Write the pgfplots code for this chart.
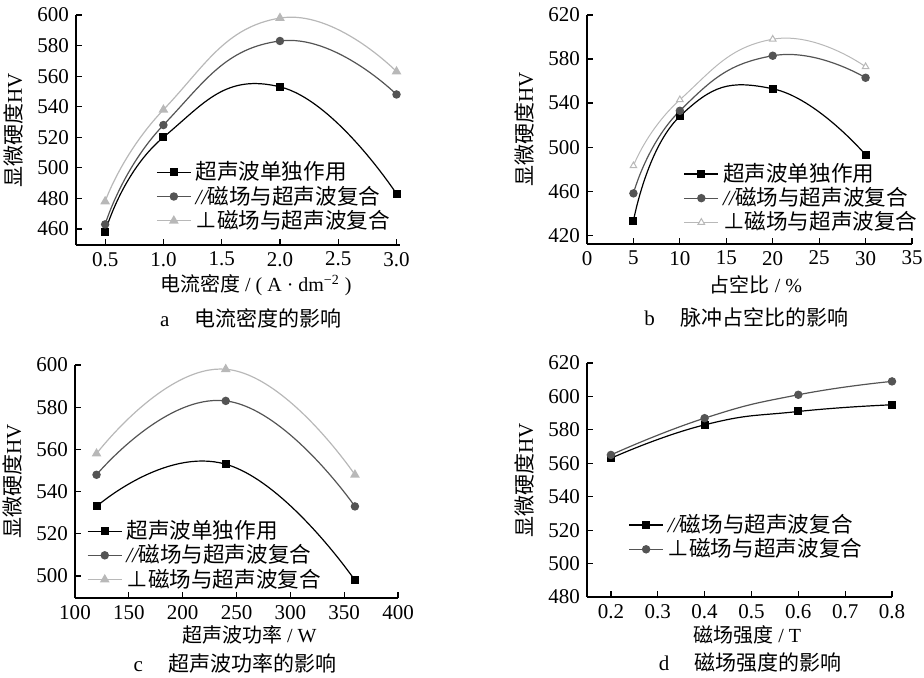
\documentclass[border=0pt]{standalone}
\usepackage{pgfplots}
\pgfplotsset{compat=1.18}
\usepackage{fontspec}
\setmainfont{Liberation Serif}
\newfontfamily\cjk{Noto Sans CJK SC}
\definecolor{sA}{gray}{0.0}
\definecolor{sB}{gray}{0.33}
\definecolor{sC}{gray}{0.72}
\pgfplotsset{
  myax/.style={
    scale only axis,
    axis lines=left,
    axis line style={-, line width=0.7pt},
    tick align=inside,
    major tick length=3pt,
    tick style={black, line width=0.6pt},
    /pgf/number format/assume math mode=true,
    tick label style={font=\fontsize{10.5}{12}\selectfont},
    ylabel style={font=\cjk\fontsize{10.5}{12}\selectfont},
    xlabel style={font=\fontsize{10}{12}\selectfont},
    legend cell align=left,
    legend style={draw=none, fill=none, font=\cjk\fontsize{10.8}{12}\selectfont, row sep=-2.5pt, inner sep=1pt},
    every axis plot/.append style={line width=0.6pt, smooth, tension=0.85},
    clip=false,
  },
  sa/.style={color=sA, mark=square*, mark size=1.7pt, mark options={fill=sA, draw=sA, solid}},
  sb/.style={color=sB, mark=*, mark size=1.8pt, mark options={fill=sB, draw=sB, solid}},
  sc/.style={color=sC, mark=triangle*, mark size=2.2pt, mark options={fill=sC, draw=sC, solid}},
}
\begin{document}
\begin{tikzpicture}
\path[use as bounding box] (0,0) rectangle (462pt,338.5pt);
% ---------- a ----------
\begin{axis}[myax, at={(38pt,216pt)}, anchor=south west,
  width=162pt, height=115pt,
  xmin=0.25, xmax=3.03, ymin=449.5, ymax=600,
  xtick={0.5,1.0,...,3.0}, ytick={460,480,...,600},
  xticklabel style={/pgf/number format/.cd, fixed, fixed zerofill, precision=1},
  xlabel={{\cjk 电流密度} / ( A · dm\textsuperscript{−2} )},
  ylabel={显微硬度{\rmfamily HV}},
  every axis x label/.style={at={(axis description cs:0.555,-0.175)}, anchor=center},
  legend style={at={(axis description cs:0.24,0.39)}, anchor=north west},
]
\addplot[sa] coordinates {(0.5,458) (1.0,520) (2.0,553) (3.0,483)};
\addplot[sb] coordinates {(0.5,463) (1.0,528) (2.0,583) (3.0,548)};
\addplot[sc] coordinates {(0.5,478) (1.0,538) (2.0,598) (3.0,563)};
\legend{超声波单独作用, {\rmfamily\itshape //}磁场与超声波复合, ⊥磁场与超声波复合}
\node[font=\fontsize{10.5}{12}\selectfont] at (axis description cs:0.54,-0.317) {a\hspace{1.2em}{\cjk 电流密度的影响}};
\end{axis}
% ---------- b ----------
\begin{axis}[myax, at={(293.5pt,216.5pt)}, anchor=south west,
  width=162.5pt, height=114.5pt,
  xmin=0, xmax=35, ymin=412, ymax=620,
  xtick={0,5,...,35}, ytick={420,460,...,620},
  xlabel={{\cjk 占空比} / \%},
  ylabel={显微硬度{\rmfamily HV}},
  every axis x label/.style={at={(axis description cs:0.52,-0.18)}, anchor=center},
  legend style={at={(axis description cs:0.29,0.38)}, anchor=north west},
]
\addplot[sa] coordinates {(5,433) (10,528) (20,553) (30,493)};
\addplot[sb] coordinates {(5,458) (10,533) (20,583) (30,563)};
\addplot[sc, mark options={fill=white, draw=sC}, mark size=1.9pt, line width=0.5pt] coordinates {(5,483) (10,543) (20,598) (30,573)};
\legend{超声波单独作用, {\rmfamily\itshape //}磁场与超声波复合, ⊥磁场与超声波复合}
\node[font=\fontsize{10.5}{12}\selectfont] at (axis description cs:0.49,-0.32) {b\hspace{1.2em}{\cjk 脉冲占空比的影响}};
\end{axis}
% ---------- c ----------
\begin{axis}[myax, at={(37.5pt,39.5pt)}, anchor=south west,
  width=161.5pt, height=116.5pt,
  xmin=100, xmax=400, ymin=489.6, ymax=600,
  xtick={100,150,...,400}, ytick={500,520,...,600},
  xlabel={{\cjk 超声波功率} / W},
  ylabel={显微硬度{\rmfamily HV}},
  every axis x label/.style={at={(axis description cs:0.54,-0.16)}, anchor=center},
  legend style={at={(axis description cs:0.03,0.36)}, anchor=north west},
]
\addplot[sa] coordinates {(120,533) (240,553) (360,498)};
\addplot[sb] coordinates {(120,548) (240,583) (360,533)};
\addplot[sc] coordinates {(120,558) (240,598) (360,548)};
\legend{超声波单独作用, {\rmfamily\itshape //}磁场与超声波复合, ⊥磁场与超声波复合}
\node[font=\fontsize{10.5}{12}\selectfont] at (axis description cs:0.495,-0.28) {c\hspace{1.2em}{\cjk 超声波功率的影响}};
\end{axis}
% ---------- d ----------
\begin{axis}[myax, at={(293.5pt,40pt)}, anchor=south west,
  width=152.5pt, height=117pt,
  xmin=0.149, xmax=0.8, ymin=480, ymax=620,
  xtick={0.2,0.3,...,0.8}, ytick={480,500,...,620},
  xticklabel style={/pgf/number format/.cd, fixed, fixed zerofill, precision=1},
  xlabel={{\cjk 磁场强度} / T},
  ylabel={显微硬度{\rmfamily HV}},
  every axis x label/.style={at={(axis description cs:0.525,-0.162)}, anchor=center},
  legend style={at={(axis description cs:0.128,0.38)}, anchor=north west},
]
\addplot[sa] coordinates {(0.2,563) (0.4,583) (0.6,591) (0.8,595)};
\addplot[sb] coordinates {(0.2,565) (0.4,587) (0.6,601) (0.8,609)};
\legend{{\rmfamily\itshape //}磁场与超声波复合, ⊥磁场与超声波复合}
\node[font=\fontsize{10.5}{12}\selectfont] at (axis description cs:0.535,-0.282) {d\hspace{1.2em}{\cjk 磁场强度的影响}};
\end{axis}
\end{tikzpicture}
\end{document}
